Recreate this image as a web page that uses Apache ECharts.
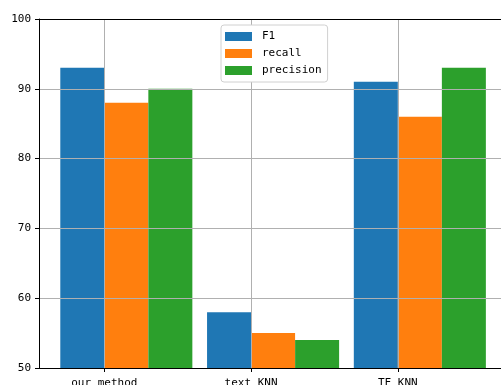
<!DOCTYPE html>
<html>
<head>
<meta charset="utf-8">
<script src="https://cdn.jsdelivr.net/npm/echarts@6/dist/echarts.min.js"></script>
<style>html,body{margin:0;padding:0;background:#fff;}#c{width:501px;height:385px;}</style>
</head>
<body>
<div id="c"></div>
<script>
var categories = ['our method', 'text KNN', 'TF KNN'];
var seriesNames = ['F1', 'recall', 'precision'];
var f1 = [93, 58, 91];
var recall = [88, 55, 86];
var precision = [90, 54, 93];
var yTicks = [50, 60, 70, 80, 90, 100];

var colors = ['#1f77b4', '#ff7f0e', '#2ca02c'];
var barW = 0.3;
var offsets = [-barW / 2, barW / 2, barW * 1.5];
var allVals = [f1, recall, precision];
var font = 'DejaVu Sans Mono';
var catIdx = categories.map(function (_, i) { return i; });

var series = allVals.map(function (vals, s) {
  return {
    name: seriesNames[s],
    type: 'bar',
    xAxisIndex: 0,
    barWidth: 44,
    barGap: '-100%',
    itemStyle: { color: colors[s] },
    data: vals.map(function (v, i) { return [i + offsets[s], v]; }),
    z: 2
  };
});

var chart = echarts.init(document.getElementById('c'), null, { renderer: 'canvas' });
chart.setOption({
  animation: false,
  color: colors,
  grid: { left: 39, right: 0, top: 19, bottom: 17, containLabel: false, outerBoundsMode: 'none' },
  legend: {
    orient: 'vertical',
    left: 221,
    top: 25,
    padding: [5, 6, 5, 4],
    itemGap: 4,
    itemWidth: 27,
    itemHeight: 9,
    icon: 'rect',
    backgroundColor: '#ffffff',
    borderColor: '#d0d0d0',
    borderWidth: 1,
    borderRadius: 3,
    textStyle: { fontFamily: font, fontSize: 11, color: '#000', lineHeight: 13, padding: [0, 0, 0, 5] },
    data: seriesNames
  },
  xAxis: [{
    type: 'value',
    min: -0.445,
    max: 2.703,
    position: 'bottom',
    z: 3,
    axisLine: { show: true, onZero: false, lineStyle: { color: '#000', width: 1 } },
    axisTick: { show: true, customValues: catIdx, length: 4, lineStyle: { color: '#000' } },
    axisLabel: {
      customValues: catIdx,
      margin: 10,
      fontFamily: font, fontSize: 11, color: '#000',
      formatter: function (v) { return categories[Math.round(v)] || ''; }
    },
    splitLine: { show: true, customValues: catIdx, lineStyle: { color: '#b0b0b0', width: 1 } }
  }, {
    type: 'value',
    min: -0.445,
    max: 2.703,
    position: 'top',
    z: 3,
    axisLine: { show: true, onZero: false, lineStyle: { color: '#000', width: 1 } },
    axisTick: { show: false },
    axisLabel: { show: false },
    splitLine: { show: false }
  }],
  yAxis: {
    type: 'value',
    min: 50,
    max: 100,
    interval: 10,
    z: 3,
    axisLine: { show: true, onZero: false, lineStyle: { color: '#000', width: 1 } },
    axisTick: { show: true, length: 4, lineStyle: { color: '#000' } },
    axisLabel: { margin: 8, fontFamily: font, fontSize: 11, color: '#000',
      formatter: function (v) { return yTicks.indexOf(v) >= 0 ? String(v) : ''; } },
    splitLine: { show: true, lineStyle: { color: '#b0b0b0', width: 1 } }
  },
  series: series
});
</script>
</body>
</html>
